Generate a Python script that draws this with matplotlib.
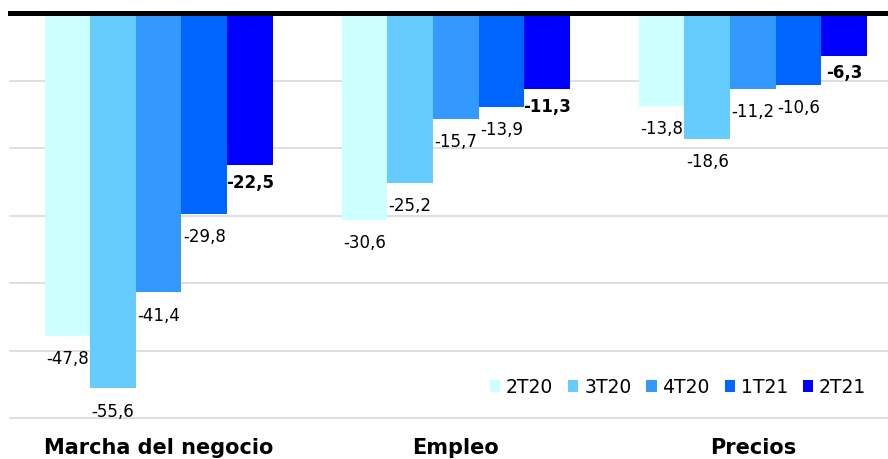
import matplotlib
matplotlib.use('Agg')
import matplotlib.pyplot as plt
from matplotlib.patches import Patch
import numpy as np

# data
categories = ['Marcha del negocio', 'Empleo', 'Precios']
series = ['2T20', '3T20', '4T20', '1T21', '2T21']
values = {
    '2T20': [-47.8, -30.6, -13.8],
    '3T20': [-55.6, -25.2, -18.6],
    '4T20': [-41.4, -15.7, -11.2],
    '1T21': [-29.8, -13.9, -10.6],
    '2T21': [-22.5, -11.3, -6.3],
}
colors = ['#CCFFFF', '#66CCFF', '#3399FF', '#0066FF', '#0000FF']

fig = plt.figure(figsize=(8.88, 4.6), dpi=100)
ax = fig.add_axes([10/888, 1-419/460, 878/888, (419-14)/460])

x = np.arange(len(categories))
w = 0.1535
for j, s in enumerate(series):
    pos = x + (j - 2) * w
    ax.bar(pos, values[s], width=w, color=colors[j], zorder=2)
    bold = (s == '2T21')
    for px, v in zip(pos, values[s]):
        lab = ('%.1f' % v).replace('.', ',')
        ax.annotate(lab, (px, v), xytext=(0, -12 if bold else -16),
                    textcoords='offset points', ha='center', va='center',
                    fontsize=12, fontweight='bold' if bold else 'normal',
                    color='black', zorder=3)

ax.set_ylim(-60, 0)
ax.set_xlim(-0.5, (888-159)/297)
for g in range(-60, 0, 10):
    ax.axhline(g, color='#d9d9d9', lw=1.2, zorder=1, clip_on=False)
ax.axhline(0, color='black', lw=3.6, zorder=4, clip_on=False)

for sp in ax.spines.values():
    sp.set_visible(False)
ax.set_yticks([])
ax.set_xticks(x)
ax.set_xticklabels(categories, fontsize=15, fontweight='bold')
ax.tick_params(axis='x', length=0, pad=14)

handles = [Patch(facecolor=c, edgecolor='none') for c in colors]
fig.legend(handles, series, loc='center right', ncol=5,
           bbox_to_anchor=(866/888, 1-388/460), frameon=False,
           fontsize=13.5, handlelength=0.55, handleheight=0.55,
           handletextpad=0.3, columnspacing=0.8, borderpad=0, borderaxespad=0)

fig.savefig('out.png', dpi=100)
